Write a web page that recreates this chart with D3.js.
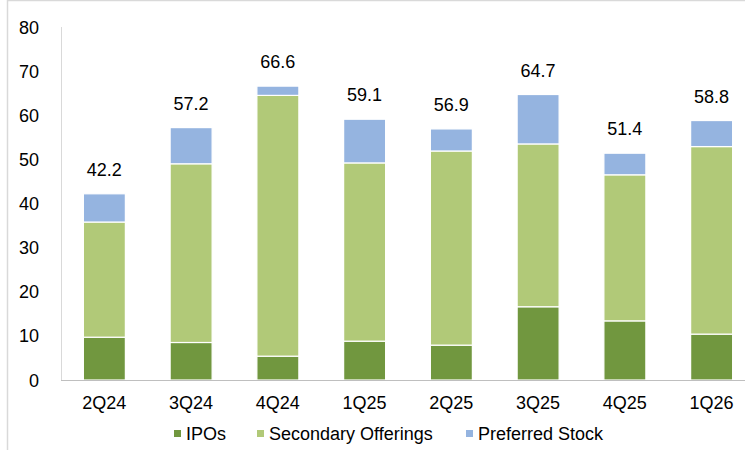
<!DOCTYPE html>
<html><head><meta charset="utf-8">
<script src="https://cdn.jsdelivr.net/npm/d3@7"></script>
<style>
html,body{margin:0;padding:0;background:#fff;}
svg{display:block;font-family:"Liberation Sans",Arial,sans-serif;}
</style></head>
<body><svg id="c" width="745" height="450"></svg>
<script>
const categories = ["2Q24","3Q24","4Q24","1Q25","2Q25","3Q25","4Q25","1Q26"];
const ipos = [9.7, 8.5, 5.4, 8.8, 7.9, 16.6, 13.4, 10.4];
const secondary = [26.1, 40.5, 59.1, 40.4, 44.0, 36.9, 33.1, 42.5];
const preferred = [6.4, 8.2, 2.1, 9.9, 5.0, 11.2, 4.9, 5.9];
const totals = [42.2, 57.2, 66.6, 59.1, 56.9, 64.7, 51.4, 58.8];
const yTicks = [0,10,20,30,40,50,60,70,80];
const seriesNames = ["IPOs","Secondary Offerings","Preferred Stock"];
const colors = ["#71973f","#b1c978","#95b4e0"];

const svg = d3.select("#c");
// outer frame
svg.append("rect").attr("x",7.5).attr("y",0.5).attr("width",760).attr("height",460)
  .attr("fill","none").attr("stroke","#d9d9d9").attr("stroke-width",1.5);

const x = d3.scaleBand().domain(categories).range([61,755]).paddingInner(0.516).paddingOuter(0.258);
const y = d3.scaleLinear().domain([0,80]).range([380,27]);

const rows = categories.map((c,i)=>({cat:c, ipos:ipos[i], secondary:secondary[i], preferred:preferred[i]}));
const stack = d3.stack().keys(["ipos","secondary","preferred"])(rows);

// axes lines
svg.append("line").attr("x1",61.5).attr("x2",61.5).attr("y1",y(80)).attr("y2",y(0))
  .attr("stroke","#d9d9d9").attr("stroke-width",1);

const g = svg.append("g");
stack.forEach((s,k)=>{
  g.selectAll(null).data(s).enter().append("rect")
    .attr("x",d=>x(d.data.cat))
    .attr("width",x.bandwidth())
    .attr("y",d=>y(d[1]))
    .attr("height",d=>y(d[0])-y(d[1]))
    .attr("fill",colors[k])
    .attr("stroke","#fff").attr("stroke-width",1.2);
});

svg.append("line").attr("x1",61).attr("x2",745).attr("y1",380.5).attr("y2",380.5)
  .attr("stroke","#bfbfbf").attr("stroke-width",1.2);

// y tick labels
svg.selectAll(".yt").data(yTicks).enter().append("text")
  .attr("x",39).attr("y",d=>y(d)+6.5).attr("text-anchor","end")
  .attr("font-size",18).attr("fill","#000").text(d=>d);

// x labels
svg.selectAll(".xt").data(categories).enter().append("text")
  .attr("x",d=>x(d)+x.bandwidth()/2).attr("y",409).attr("text-anchor","middle")
  .attr("font-size",18).attr("fill","#000").text(d=>d);

// totals
svg.selectAll(".tot").data(categories).enter().append("text")
  .attr("x",d=>x(d)+x.bandwidth()/2).attr("y",(d,i)=>y(totals[i])-18).attr("text-anchor","middle")
  .attr("font-size",18).attr("fill","#000").text((d,i)=>totals[i].toFixed(1));

// legend
const legX = [174, 257, 466];
const lg = svg.append("g");
seriesNames.forEach((n,i)=>{
  lg.append("rect").attr("x",legX[i]).attr("y",430).attr("width",7).attr("height",7).attr("fill",colors[i]);
  lg.append("text").attr("x",legX[i]+12).attr("y",439.5).attr("font-size",18).attr("fill","#000").text(n);
});
</script></body></html>
